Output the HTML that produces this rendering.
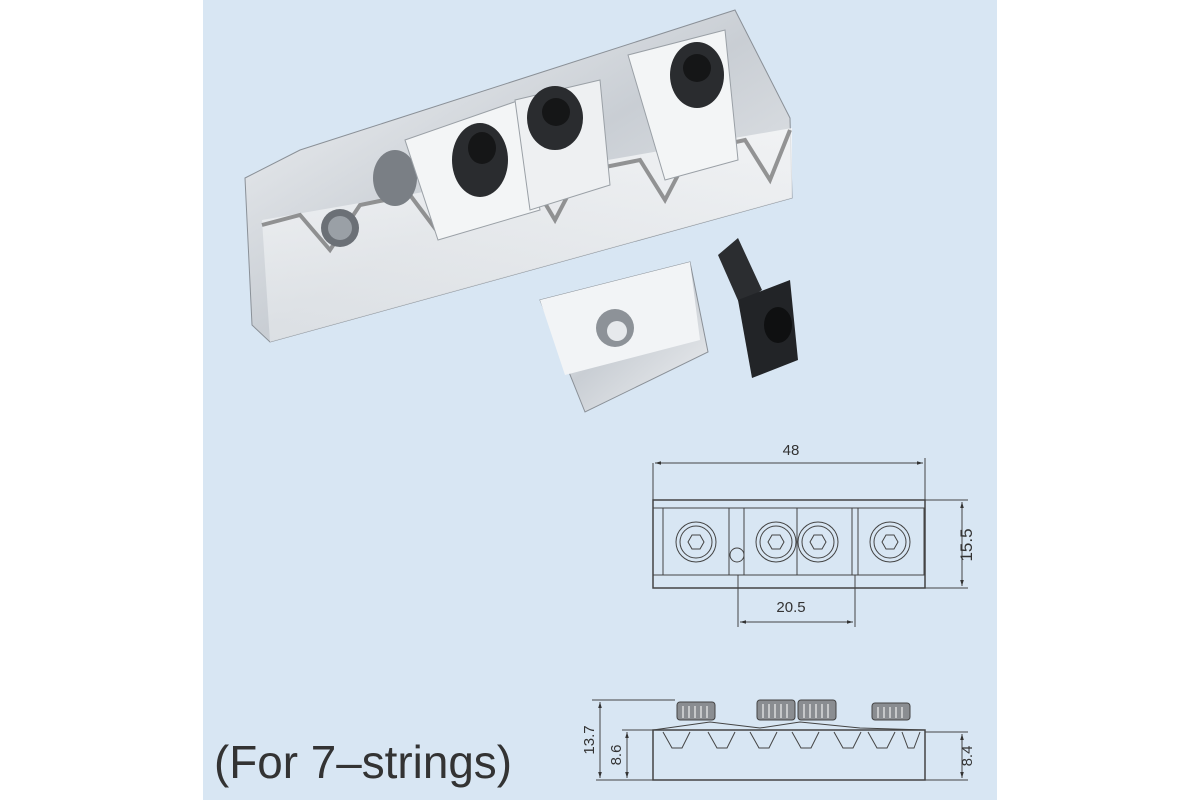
<!DOCTYPE html>
<html><head><meta charset="utf-8"><style>
html,body{margin:0;padding:0;background:#fff;}
svg{display:block}
</style></head><body>
<svg width="1200" height="800" viewBox="0 0 1200 800" xmlns="http://www.w3.org/2000/svg" font-family="Liberation Sans, sans-serif">
<defs>
<linearGradient id="chrome" x1="0" y1="0" x2="1" y2="1">
<stop offset="0" stop-color="#f4f6f8"/><stop offset="0.5" stop-color="#c9ced4"/><stop offset="1" stop-color="#eef0f2"/>
</linearGradient>
<linearGradient id="face" x1="0" y1="0" x2="0" y2="1">
<stop offset="0" stop-color="#f7f8f9"/><stop offset="1" stop-color="#dfe3e7"/>
</linearGradient>
<marker id="ar" viewBox="0 0 10 10" refX="10" refY="5" markerWidth="8" markerHeight="6" orient="auto-start-reverse"><path d="M0,2 L10,5 L0,8 z" fill="#333"/></marker>
</defs>
<rect x="203" y="0" width="794" height="800" fill="#d8e6f3"/>

<!-- Nut body -->
<polygon points="245,178 300,150 735,10 790,118 792,198 270,342 252,325" fill="url(#chrome)" stroke="#8a9097" stroke-width="1"/>
<polygon points="262,220 792,128 792,198 270,342" fill="url(#face)" opacity="0.8"/>
<path d="M262,225 L300,215 L330,250 L360,205 L410,195 L440,235 L470,190 L530,178 L555,220 L580,172 L640,160 L665,200 L690,152 L745,140 L770,180 L790,130" fill="none" stroke="#555" stroke-width="4" opacity="0.6"/>
<circle cx="340" cy="228" r="19" fill="#6b7076"/>
<circle cx="340" cy="228" r="12" fill="#9aa0a6"/>
<ellipse cx="395" cy="178" rx="22" ry="28" fill="#7a7f85"/>
<!-- clamp blocks -->
<polygon points="405,140 520,100 540,210 438,240" fill="#f3f5f6" stroke="#9aa0a6"/>
<polygon points="515,100 600,80 610,185 530,210" fill="#eef0f2" stroke="#9aa0a6"/>
<polygon points="628,55 725,30 738,160 665,180" fill="#f3f5f6" stroke="#9aa0a6"/>
<!-- screws -->
<ellipse cx="480" cy="160" rx="28" ry="37" fill="#2a2c2f"/>
<ellipse cx="482" cy="148" rx="14" ry="16" fill="#151617"/>
<ellipse cx="555" cy="118" rx="28" ry="32" fill="#2a2c2f"/>
<ellipse cx="556" cy="112" rx="14" ry="14" fill="#151617"/>
<ellipse cx="697" cy="75" rx="27" ry="33" fill="#2a2c2f"/>
<ellipse cx="697" cy="68" rx="14" ry="14" fill="#151617"/>
<!-- loose square -->
<polygon points="540,300 690,262 708,352 585,412" fill="url(#chrome)" stroke="#8a9097"/>
<polygon points="540,300 690,262 700,340 565,375" fill="#f2f4f6"/>
<circle cx="615" cy="328" r="19" fill="#8d9298"/>
<circle cx="617" cy="331" r="10" fill="#e6e9ec"/>
<!-- bolt -->
<polygon points="718,255 738,238 762,290 740,305" fill="#2b2d30"/>
<polygon points="738,300 790,280 798,360 752,378" fill="#222427"/>
<ellipse cx="778" cy="325" rx="14" ry="18" fill="#0f1011"/>

<!-- Top view drawing -->
<g stroke="#444" stroke-width="1" fill="none">
<line x1="653" y1="463" x2="653" y2="500"/><line x1="925" y1="458" x2="925" y2="500"/>
<line x1="655" y1="463" x2="923" y2="463" marker-start="url(#ar)" marker-end="url(#ar)"/>
<rect x="653" y="500" width="272" height="88" stroke-width="1.5"/>
<line x1="653" y1="508" x2="925" y2="508"/>
<line x1="653" y1="575" x2="925" y2="575"/>
<rect x="663" y="508" width="66" height="67"/>
<rect x="744" y="508" width="53" height="67"/>
<rect x="797" y="508" width="55" height="67"/>
<rect x="858" y="508" width="66" height="67"/>
<circle cx="696" cy="542" r="20"/><circle cx="696" cy="542" r="16"/>
<circle cx="776" cy="542" r="20"/><circle cx="776" cy="542" r="16"/>
<circle cx="818" cy="542" r="20"/><circle cx="818" cy="542" r="16"/>
<circle cx="890" cy="542" r="20"/><circle cx="890" cy="542" r="16"/>
<polygon points="704,542 700,549 692,549 688,542 692,535 700,535"/>
<polygon points="784,542 780,549 772,549 768,542 772,535 780,535"/>
<polygon points="826,542 822,549 814,549 810,542 814,535 822,535"/>
<polygon points="898,542 894,549 886,549 882,542 886,535 894,535"/>
<circle cx="737" cy="555" r="7"/>
<line x1="925" y1="500" x2="968" y2="500"/><line x1="925" y1="588" x2="968" y2="588"/>
<line x1="962" y1="502" x2="962" y2="586" marker-start="url(#ar)" marker-end="url(#ar)"/>
<line x1="738" y1="575" x2="738" y2="627"/><line x1="855" y1="575" x2="855" y2="627"/>
<line x1="740" y1="622" x2="853" y2="622" marker-start="url(#ar)" marker-end="url(#ar)"/>
</g>
<g fill="#333" font-size="15">
<text x="791" y="455" text-anchor="middle">48</text>
<text x="791" y="612" text-anchor="middle">20.5</text>
<text transform="translate(972,545) rotate(-90)" text-anchor="middle" font-size="17">15.5</text>
</g>

<!-- Side view drawing -->
<g stroke="#444" stroke-width="1" fill="none">
<rect x="653" y="730" width="272" height="50" stroke-width="1.5"/>
<path d="M653,730 L710,722 L760,728 L800,722 L860,728 L925,730"/>
<path d="M663,732 L672,748 L682,748 L690,732 M708,732 L717,748 L727,748 L735,732 M750,732 L759,748 L769,748 L777,732 M792,732 L801,748 L811,748 L819,732 M834,732 L843,748 L853,748 L861,732 M868,732 L877,748 L887,748 L895,732 M902,732 L908,748 L914,748 L920,732"/>
<line x1="592" y1="700" x2="675" y2="700"/>
<line x1="596" y1="780" x2="653" y2="780"/>
<line x1="622" y1="730" x2="653" y2="730"/>
<line x1="600" y1="702" x2="600" y2="778" marker-start="url(#ar)" marker-end="url(#ar)"/>
<line x1="627" y1="732" x2="627" y2="778" marker-start="url(#ar)" marker-end="url(#ar)"/>
<line x1="925" y1="732" x2="968" y2="732"/><line x1="925" y1="780" x2="968" y2="780"/>
<line x1="962" y1="734" x2="962" y2="778" marker-start="url(#ar)" marker-end="url(#ar)"/>
</g>
<g fill="#8a8d91" stroke="#444" stroke-width="1">
<rect x="677" y="702" width="38" height="18" rx="3"/>
<rect x="757" y="700" width="38" height="20" rx="3"/>
<rect x="798" y="700" width="38" height="20" rx="3"/>
<rect x="872" y="703" width="38" height="17" rx="3"/>
</g>
<g stroke="#eee" stroke-width="1.2">
<path d="M683,706v12M689,706v12M695,706v12M701,706v12M707,706v12 M763,704v14M769,704v14M775,704v14M781,704v14M787,704v14 M804,704v14M810,704v14M816,704v14M822,704v14M828,704v14 M878,707v11M884,707v11M890,707v11M896,707v11M902,707v11"/>
</g>
<g fill="#333" font-size="15">
<text transform="translate(594,740) rotate(-90)" text-anchor="middle">13.7</text>
<text transform="translate(621,755) rotate(-90)" text-anchor="middle">8.6</text>
<text transform="translate(972,756) rotate(-90)" text-anchor="middle">8.4</text>
</g>

<text x="214" y="778" font-size="46" fill="#333" textLength="298" lengthAdjust="spacingAndGlyphs">(For 7–strings)</text>
</svg>
</body></html>
